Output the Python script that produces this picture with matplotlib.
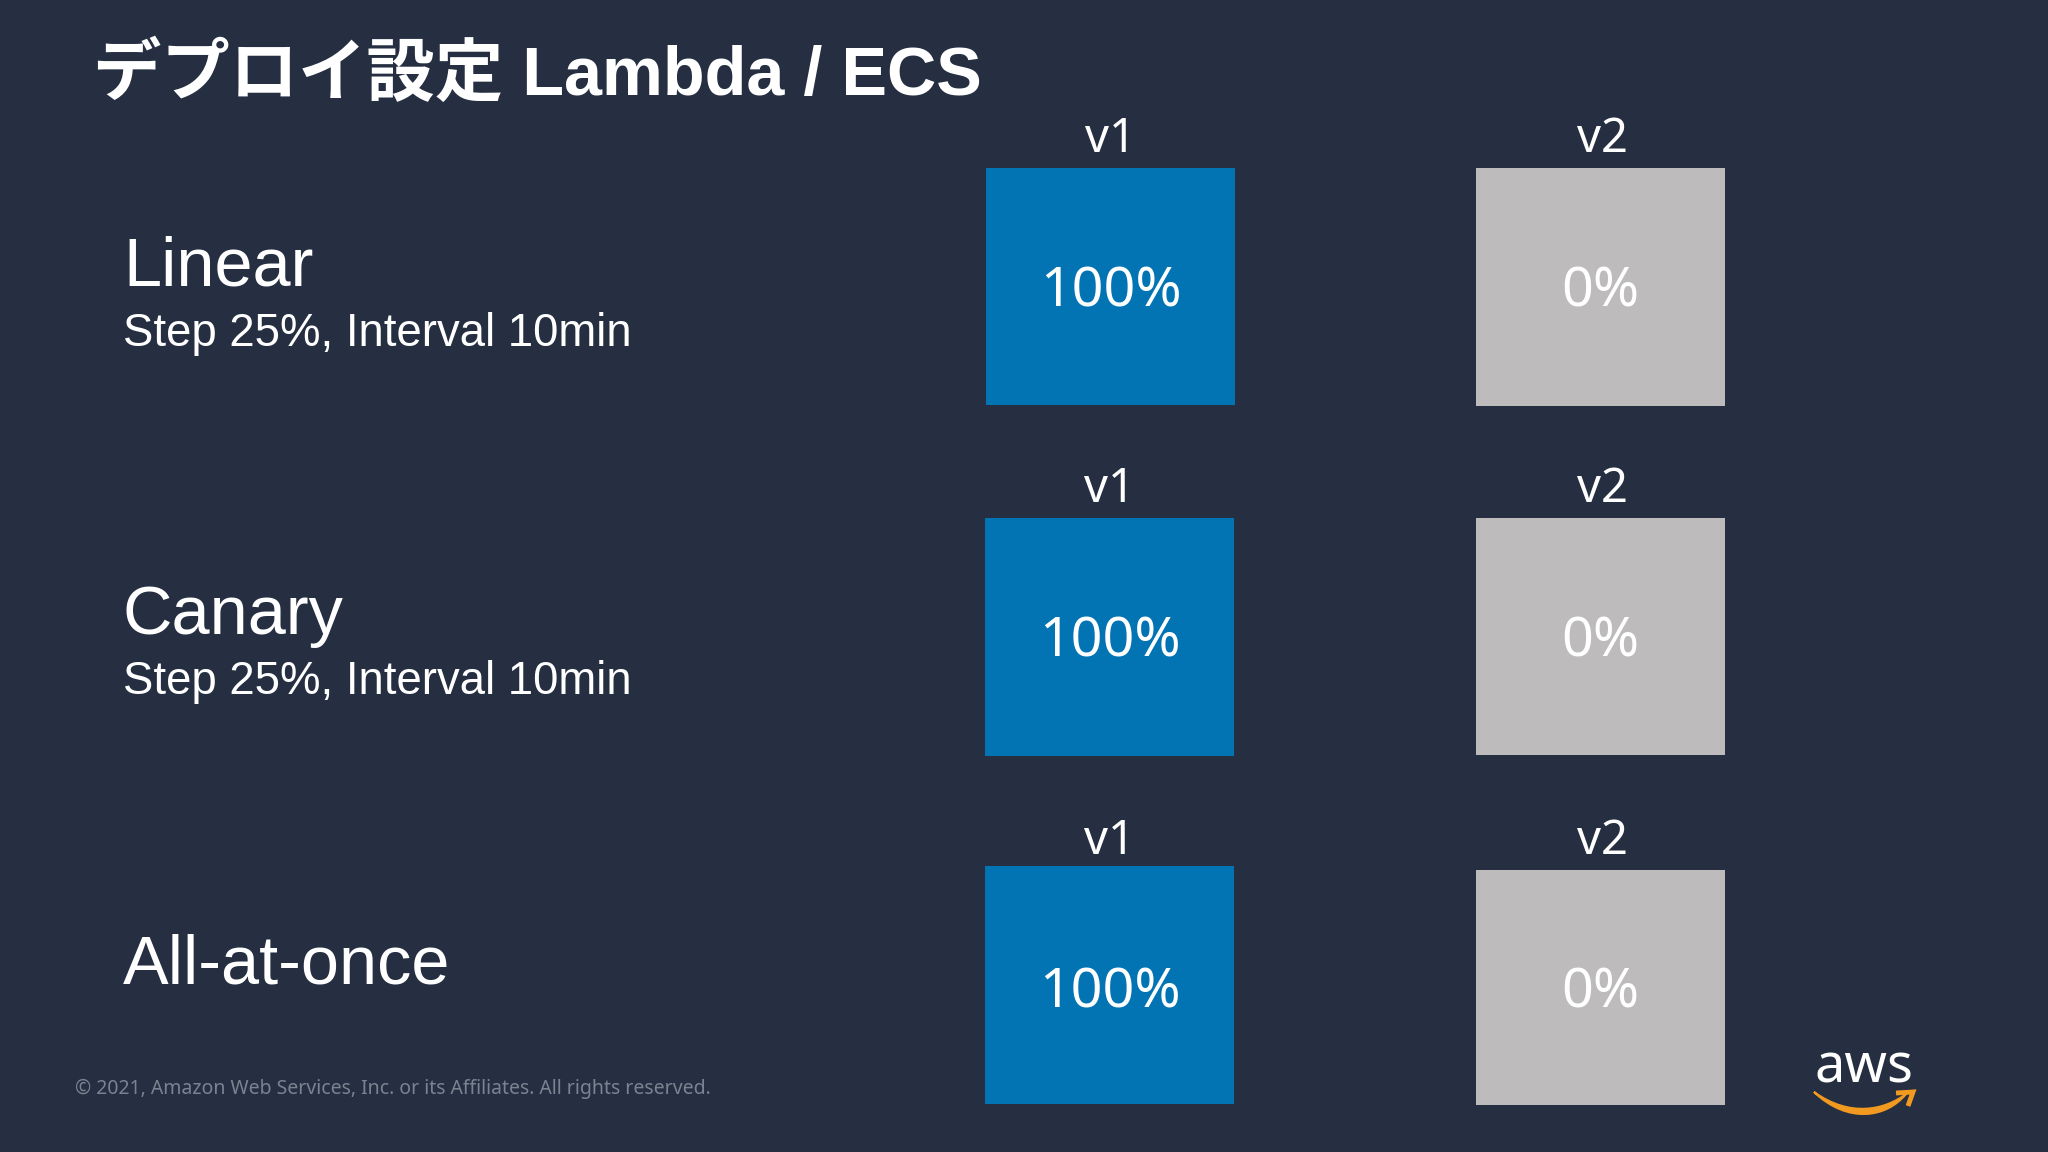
import matplotlib
matplotlib.use("Agg")
import matplotlib.pyplot as plt
from matplotlib.patches import Rectangle, PathPatch
from matplotlib.path import Path

# Slide text and values
title = "デプロイ設定 Lambda / ECS"
strategies = ["Linear", "Canary", "All-at-once"]
subtitles = ["Step 25%, Interval 10min", "Step 25%, Interval 10min", ""]
versions = ["v1", "v2"]
v1_share = [100, 100, 100]
v2_share = [0, 0, 0]
copyright_text = "© 2021, Amazon Web Services, Inc. or its Affiliates. All rights reserved."

# Positions in pixels
v1_boxes = [(986, 168, 249, 237), (985, 518, 249, 238), (985, 866, 249, 238)]
v2_boxes = [(1476, 168, 249, 238), (1476, 518, 249, 237), (1476, 870, 249, 235)]
version_y = [140, 490, 841]
share_y = [292, 642, 993]
name_y = [267, 616, 966]
sub_y = [334, 682]

BG = "#252f41"
BLUE = "#0273b3"
GREY = "#bdbbbc"
ORANGE = "#f29a1f"

plt.rcParams['font.family'] = ['Liberation Sans', 'Noto Sans CJK JP', 'DejaVu Sans']

fig = plt.figure(figsize=(20.48, 11.52), dpi=100, facecolor=BG)
ax = fig.add_axes([0, 0, 1, 1])
ax.set_xlim(0, 2048)
ax.set_ylim(1152, 0)
ax.axis('off')

ax.text(93, 76, title, color='white', fontsize=49.2, fontweight='bold', va='center', ha='left')

for i in range(3):
    ax.text(123, name_y[i], strategies[i], color='white', fontsize=49.3, va='center')
    if subtitles[i]:
        ax.text(123, sub_y[i], subtitles[i], color='white', fontsize=32.8, va='center')

    for box, share, ver in zip((v1_boxes[i], v2_boxes[i]), (v1_share[i], v2_share[i]), versions):
        x, y, w, h = box
        color = BLUE if ver == "v1" else GREY
        ax.add_patch(Rectangle((x, y), w, h, facecolor=color, edgecolor='none'))
        ax.text(x + w / 2, share_y[i], f"{share}%", color='white', fontsize=40, family='Noto Sans',
                ha='center', va='center')
        ax.text(x + w / 2 + (0 if ver == "v1" else 2), version_y[i], ver, color='white', fontsize=34,
                family='Noto Sans', ha='center', va='center')

ax.text(75, 1089, copyright_text, color='#7b8391', fontsize=14, family='Noto Sans', va='center')

# aws logo
ax.text(1864, 1068, "aws", color='white', fontsize=39, family='Noto Sans', ha='center', va='center')
smile = Path([(1814, 1092), (1850, 1118), (1885, 1110), (1906, 1094),
              (1886, 1118), (1848, 1124), (1814, 1092)],
             [Path.MOVETO, Path.CURVE4, Path.CURVE4, Path.CURVE4, Path.CURVE4, Path.CURVE4, Path.CURVE4])
ax.add_patch(PathPatch(smile, facecolor=ORANGE, edgecolor=ORANGE, lw=1.5))
tip = Path([(1896, 1093), (1913, 1092), (1908, 1106)], [Path.MOVETO, Path.LINETO, Path.LINETO])
ax.add_patch(PathPatch(tip, facecolor='none', edgecolor=ORANGE, lw=3.5))

fig.savefig("out.png", dpi=100, facecolor=BG)
